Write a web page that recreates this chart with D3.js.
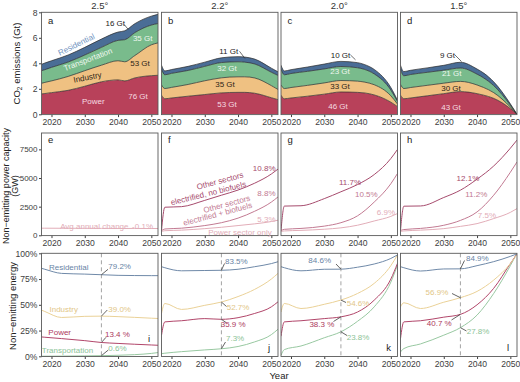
<!DOCTYPE html>
<html><head><meta charset="utf-8">
<script src="https://cdn.jsdelivr.net/npm/d3@7"></script>
<style>body{margin:0;background:#fff}svg{display:block}text{font-family:"Liberation Sans",Arial,Helvetica,sans-serif}</style>
</head><body><svg id="c" width="520" height="382"></svg>
<script>
// ---------------- DATA ----------------
const scenarios = ["2.5°", "2.2°", "2.0°", "1.5°"];
const lettersTop = ["a", "b", "c", "d"];
const lettersMid = ["e", "f", "g", "h"];
const lettersBot = ["i", "j", "k", "l"];
const xTicks = [2020, 2030, 2040, 2050];
const emTicks = [0, 2, 4, 6, 8];
const capTicks = [0, 2500, 5000, 7500];
const shareTicks = [0, 25, 50, 75, 100];
const sectors = ["Power", "Industry", "Transportation", "Residential"];

// Row 1: CO2 emissions by sector (Gt/yr)
const emYears = [2017, 2018, 2020, 2025, 2030, 2035, 2040, 2042, 2045, 2050, 2052];
const powerEm = [
  [1.6, 1.63, 1.7, 1.88, 2.2, 2.55, 2.7, 2.62, 2.85, 3.03, 3.06],
  [1.5, 1.22, 1.28, 1.42, 1.55, 1.68, 1.72, 1.72, 1.65, 1.3, 1.15],
  [1.5, 1.22, 1.28, 1.42, 1.58, 1.75, 1.72, 1.68, 1.52, 0.95, 0.6],
  [1.5, 1.22, 1.28, 1.45, 1.62, 1.78, 1.62, 1.5, 1.25, 0.45, 0]
];
const industryEm = [
  [0.83, 0.87, 0.92, 1.09, 1.22, 1.3, 1.5, 1.5, 1.75, 2.42, 2.54],
  [0.8, 0.8, 0.83, 0.92, 1.08, 1.18, 1.22, 1.22, 1.2, 0.95, 0.8],
  [0.8, 0.8, 0.82, 0.85, 0.88, 0.9, 0.88, 0.85, 0.8, 0.5, 0.2],
  [0.85, 0.8, 0.82, 0.82, 0.82, 0.8, 0.68, 0.6, 0.45, 0.12, 0]
];
const transportEm = [
  [0.99, 1.0, 1.06, 1.13, 1.23, 1.4, 1.6, 1.73, 1.8, 1.55, 1.52],
  [1.25, 1.08, 1.1, 1.1, 1.13, 1.2, 1.18, 1.15, 1.1, 1.05, 1.1],
  [1.25, 1.08, 1.1, 1.1, 1.1, 1.1, 1.05, 1.0, 0.85, 0.45, 0.2],
  [1.2, 1.0, 1.02, 1.02, 1.02, 1.05, 0.85, 0.75, 0.55, 0.15, 0]
];
const residentialEm = [
  [0.5, 0.52, 0.52, 0.55, 0.6, 0.65, 0.65, 0.7, 0.7, 0.7, 0.72],
  [0.3, 0.3, 0.3, 0.32, 0.33, 0.37, 0.4, 0.4, 0.38, 0.32, 0.28],
  [0.3, 0.3, 0.3, 0.34, 0.38, 0.4, 0.4, 0.38, 0.35, 0.2, 0.1],
  [0.3, 0.33, 0.33, 0.35, 0.38, 0.45, 0.4, 0.38, 0.3, 0.1, 0]
];
const residentialTotal = [16, 11, 10, 9];
const transportTotal = [35, 32, 23, 21];
const industryTotal = [53, 35, 33, 30];
const powerTotal = [76, 53, 46, 43];

// Row 2: non-emitting power capacity (GW)
const capYears = [2017, 2018, 2023, 2030, 2035, 2040, 2045, 2050, 2052];
const capPowerOnly = [
  [620, 620, 615, 610, 605, 600, 598, 595, 593],
  [350, 400, 450, 580, 700, 850, 1000, 1200, 1320],
  [350, 380, 430, 530, 650, 880, 1250, 1650, 1900],
  [350, 380, 450, 580, 780, 1020, 1460, 2000, 2330]
];
const capBiofuels = [
  [],
  [400, 550, 620, 850, 1100, 1500, 2100, 2900, 3350],
  [400, 520, 600, 800, 1100, 1700, 2900, 4500, 5400],
  [420, 500, 600, 875, 1300, 2040, 3500, 5500, 6400]
];
const capNoBiofuels = [
  [],
  [400, 2450, 2500, 3050, 3500, 3950, 4550, 5350, 5780],
  [400, 2550, 2580, 3200, 3800, 4430, 5300, 6700, 7500],
  [420, 2540, 2560, 3300, 3940, 4900, 6050, 7600, 8310]
];
const rateNoBiofuels = [null, 10.8, 11.7, 12.1];
const rateBiofuels = [null, 8.8, 10.5, 11.2];
const ratePowerOnly = [-0.1, 5.3, 6.9, 7.5];

// Row 3: non-emitting share of energy (%)
const shareYears = [2017, 2018, 2023, 2030, 2035, 2040, 2045, 2050, 2052];
const shareResidential = [
  [85.4, 84.5, 80.5, 79.8, 79.2, 78.6, 78.4, 78.3, 78.3],
  [87, 86, 83, 83.3, 83.5, 84.5, 87, 90, 91.8],
  [87, 86, 83, 84.5, 84.6, 86.5, 89.6, 95, 98.4],
  [87, 86, 82.8, 84.8, 84.9, 88, 91.9, 97, 99.5]
];
const shareIndustry = [
  [44.8, 43.5, 37.7, 38.8, 39.0, 38.5, 37.8, 37.0, 36.7],
  [41.6, 51.3, 45.5, 49.5, 52.7, 58, 65, 75, 80.5],
  [43, 51.3, 46.4, 50.5, 54.6, 61, 70.8, 88, 98.4],
  [48, 52, 46.4, 52.5, 56.9, 63, 74, 90, 99]
];
const sharePower = [
  [18.8, 18.5, 17.2, 15.2, 13.4, 12.5, 11.7, 11.0, 10.7],
  [20.5, 33.4, 34.5, 36.6, 35.9, 37.5, 41.6, 48, 52.9],
  [19.5, 33.4, 34.5, 36.6, 38.3, 43, 54.5, 75, 90.3],
  [17.2, 33.4, 34.5, 38, 40.7, 50, 66, 90, 99.5]
];
const shareTransport = [
  [0.1, 0.1, 0.2, 0.4, 0.6, 1.0, 1.6, 2.8, 3.6],
  [2.6, 3, 4.5, 6.2, 7.3, 9.5, 14, 21, 26.3],
  [1, 6.5, 10, 18, 23.8, 34, 48, 72, 88.6],
  [4.2, 7.5, 12, 20.5, 27.8, 40, 61, 88, 100]
];
const markYear = 2035;

// ---------------- LAYOUT / STYLE ----------------
const svg = d3.select("#c");
const colX = [41.5, 161.5, 281, 400.5];
const PW = 116.5;
const rowBox = [[12.3, 114.6], [133, 235.6], [253.3, 356.5]];
const emColors = {Power: "#b8415a", Industry: "#efc182", Transportation: "#79bb8c", Residential: "#4a6d96"};
const capColors = ["#a64b6d", "#c27a92", "#e2adb8"];
const shColors = {Residential: "#6f89a8", Industry: "#ead197", Power: "#b1466a", Transportation: "#98c8a1"};
const shText = {Residential: "#6884a5", Industry: "#e2c687", Power: "#ad3a5d", Transportation: "#8cc397"};
const tickCol = "#404040";
const borderCol = "#5a5a5a";

const xScale = i => d3.scaleLinear().domain([2017, 2052]).range([colX[i], colX[i] + PW]);
const yEm = d3.scaleLinear().domain([0, 8]).range([114.3, 12.3]);
const yCap = d3.scaleLinear().domain([0, 8930]).range([235.3, 133]);
const ySh = d3.scaleLinear().domain([0, 100]).range([356.3, 253.3]);

const defs = svg.append("defs");
function clipFor(id, i, r) {
  defs.append("clipPath").attr("id", id).append("rect")
    .attr("x", colX[i]).attr("y", rowBox[r][0]).attr("width", PW).attr("height", rowBox[r][1] - rowBox[r][0]);
  return "url(#" + id + ")";
}
function txt(g, x, y, s, o = {}) {
  const t = g.append("text").attr("x", x).attr("y", y).text(s)
    .attr("font-size", o.size || 8).attr("fill", o.fill || "#333")
    .attr("text-anchor", o.anchor || "middle");
  if (o.rot !== undefined) t.attr("transform", `rotate(${o.rot},${x},${y})`);
  return t;
}
function frame(i, r, yScale, ticks, fmt, ySize) {
  const x = xScale(i);
  const b = rowBox[r];
  const ax = svg.append("g").attr("transform", `translate(0,${b[1]})`)
    .call(d3.axisBottom(x).tickValues(xTicks).tickSize(2.5).tickPadding(1.5).tickFormat(d3.format("d")));
  ax.select(".domain").remove();
  ax.selectAll("line").attr("stroke", tickCol);
  ax.selectAll("text").attr("font-size", 8.6).attr("fill", tickCol).attr("font-family", '"Liberation Sans",Arial,sans-serif');
  if (i === 0) {
    const ay = svg.append("g").attr("transform", `translate(${colX[0]},0)`)
      .call(d3.axisLeft(yScale).tickValues(ticks).tickSize(2.5).tickPadding(1.5).tickFormat(fmt));
    ay.select(".domain").remove();
    ay.selectAll("line").attr("stroke", tickCol);
    ay.selectAll("text").attr("font-size", ySize || 8.6).attr("fill", tickCol).attr("font-family", '"Liberation Sans",Arial,sans-serif');
  }
}
function border(i, r) {
  svg.append("rect").attr("x", colX[i]).attr("y", rowBox[r][0]).attr("width", PW)
    .attr("height", rowBox[r][1] - rowBox[r][0]).attr("fill", "none").attr("stroke", borderCol).attr("stroke-width", 0.9);
}

// ---------------- ROW 1 ----------------
const emLabelPos = [
  [[115.3, 26], [142.7, 41], [140, 66], [138, 98.7]],
  [[228.7, 53.7], [227, 71.4], [225, 87.4], [227, 106.7]],
  [[340.5, 57.5], [340, 73.5], [340, 88.9], [338, 108.7]],
  [[447.5, 57.5], [451.7, 75.7], [451, 90.7], [451, 109.7]]
];
const emLeaders = [[124, 24.3, 128.3, 29.5], [239.5, 51.3, 245, 58.5], [350.5, 55, 355.5, 59.8], [455, 55, 461.5, 61.5]];
const emLabelFill = ["#222", "#eef7ef", "#2d2416", "#f6dbe1"];

for (let i = 0; i < 4; i++) {
  const x = xScale(i);
  const rows = emYears.map((yr, k) => ({year: yr, Power: powerEm[i][k], Industry: industryEm[i][k],
    Transportation: transportEm[i][k], Residential: residentialEm[i][k]}));
  const series = d3.stack().keys(sectors)(rows);
  const g = svg.append("g").attr("clip-path", clipFor("c1" + i, i, 0));
  const area = d3.area().x(d => x(d.data.year)).y0(d => yEm(d[0])).y1(d => yEm(d[1])).curve(d3.curveMonotoneX);
  const line = d3.line().x(d => x(d.data.year)).y(d => yEm(d[1])).curve(d3.curveMonotoneX);
  g.selectAll("path.a").data(series).join("path").attr("d", area).attr("fill", s => emColors[s.key]);
  g.selectAll("path.l").data(series).join("path").attr("d", line).attr("fill", "none").attr("stroke", "#2a2a2a").attr("stroke-width", 0.7);
  frame(i, 0, yEm, emTicks, d3.format("d"));
  border(i, 0);
  txt(svg, colX[i] + PW / 2, 9.3, scenarios[i], {size: 9.5, fill: "#333"});
  txt(svg, colX[i] + 6.5, rowBox[0][0] + 11.3, lettersTop[i], {size: 9.5, fill: "#222", anchor: "start"});
  const totals = [residentialTotal[i], transportTotal[i], industryTotal[i], powerTotal[i]];
  totals.forEach((v, k) => txt(svg, emLabelPos[i][k][0], emLabelPos[i][k][1], v + " Gt", {size: 8, fill: emLabelFill[k]}));
  const L = emLeaders[i];
  svg.append("line").attr("x1", L[0]).attr("y1", L[1]).attr("x2", L[2]).attr("y2", L[3]).attr("stroke", "#333").attr("stroke-width", 0.7);
}
// sector names in panel a
txt(svg, 77.5, 47, "Residential", {size: 8, fill: "#7193c0", rot: -26});
txt(svg, 89, 62, "Transportation", {size: 8, fill: "#eef7ef", rot: -21});
txt(svg, 88, 80, "Industry", {size: 8, fill: "#2d2416", rot: -11});
txt(svg, 93.3, 104, "Power", {size: 8, fill: "#f6dbe1"});

// ---------------- ROW 2 ----------------
const capLabelPos = [
  [null, null, [153, 229]],
  [[275.5, 171], [275.5, 196.2], [275.5, 222.2]],
  [[361, 184.5], [377.7, 197.2], [395, 214.5]],
  [[479.3, 180.5], [487.3, 197.2], [496, 218]]
];
for (let i = 0; i < 4; i++) {
  const x = xScale(i);
  const g = svg.append("g").attr("clip-path", clipFor("c2" + i, i, 1));
  const line = d3.line().x((d, k) => x(capYears[k])).y(d => yCap(d)).curve(d3.curveMonotoneX);
  const sets = [capNoBiofuels[i], capBiofuels[i], capPowerOnly[i]];
  sets.forEach((s, k) => {
    if (s.length) g.append("path").attr("d", line(s)).attr("fill", "none").attr("stroke", capColors[k]).attr("stroke-width", 1);
  });
  frame(i, 1, yCap, capTicks, d3.format("d"), 8);
  border(i, 1);
  txt(svg, colX[i] + 6.5, rowBox[1][0] + 10.3, lettersMid[i], {size: 9.5, fill: "#222", anchor: "start"});
  const rates = [rateNoBiofuels[i], rateBiofuels[i], ratePowerOnly[i]];
  rates.forEach((r, k) => {
    if (r === null) return;
    const p = capLabelPos[i][k];
    txt(svg, p[0], p[1], r.toFixed(1) + "%", {size: 8, fill: capColors[k], anchor: "end"});
  });
}
txt(svg, 128.5, 229, "Avg annual change", {size: 8, fill: capColors[2], anchor: "end"});
txt(svg, 220.7, 183.5, "Other sectors", {size: 8, fill: capColors[0], rot: -15});
txt(svg, 209, 196, "electrified, no biofuels", {size: 8, fill: capColors[0], rot: -14});
txt(svg, 227.5, 206.7, "Other sectors", {size: 8, fill: capColors[1], rot: -15});
txt(svg, 218.3, 216.7, "electrified + biofuels", {size: 8, fill: capColors[1], rot: -15});
txt(svg, 240, 234.5, "Power sector only", {size: 8, fill: capColors[2]});

// ---------------- ROW 3 ----------------
const shOrder = ["Residential", "Industry", "Power", "Transportation"];
const shLabelPos = [
  [["start", 108.3, 268.7], ["start", 108.3, 312], ["start", 105, 337], ["start", 108.3, 350.7]],
  [["start", 225, 263.7], ["start", 226.7, 310.3], ["start", 220.7, 327], ["start", 226, 341.3]],
  [["end", 331, 263], ["start", 346.7, 305.7], ["end", 334.3, 327.3], ["start", 346.7, 340.3]],
  [["start", 466, 261.3], ["end", 448.3, 295.3], ["end", 451.7, 325.7], ["start", 466.7, 334]]
];
const shLeaderEnd = [
  [[108, 269.3], [107.3, 310], [106, 337.3], [108.3, 350]],
  [[224.5, 263.5], [226.5, 306.5], [226, 322.5], [225.5, 342]],
  [[336, 264], [346, 302.5], [333.5, 321.5], [347, 335.5]],
  [[464.5, 260.5], [452, 293.5], [451.5, 320], [466.5, 331]]
];
const shNamePos = [[68.7, 269.7], [63.7, 312], [59.7, 335.3], [67.5, 353]];
for (let i = 0; i < 4; i++) {
  const x = xScale(i);
  const g = svg.append("g").attr("clip-path", clipFor("c3" + i, i, 2));
  const data = {Residential: shareResidential[i], Industry: shareIndustry[i], Power: sharePower[i], Transportation: shareTransport[i]};
  const line = d3.line().x((d, k) => x(shareYears[k])).y(d => ySh(d)).curve(d3.curveMonotoneX);
  ["Transportation", "Power", "Industry", "Residential"].forEach(s =>
    g.append("path").attr("d", line(data[s])).attr("fill", "none").attr("stroke", shColors[s]).attr("stroke-width", 1));
  const mx = x(markYear);
  svg.append("line").attr("x1", mx).attr("x2", mx).attr("y1", rowBox[2][0]).attr("y2", rowBox[2][1])
    .attr("stroke", "#9a9a9a").attr("stroke-width", 0.9).attr("stroke-dasharray", "4,3");
  frame(i, 2, ySh, shareTicks, d => d + "%");
  border(i, 2);
  const ki = shareYears.indexOf(markYear);
  shOrder.forEach((s, k) => {
    const v = data[s][ki];
    const e = shLeaderEnd[i][k];
    svg.append("line").attr("x1", mx).attr("y1", ySh(v)).attr("x2", e[0]).attr("y2", e[1]).attr("stroke", "#222").attr("stroke-width", 0.7);
    const p = shLabelPos[i][k];
    const label = s === "Power" ? v.toFixed(1) + " %" : v.toFixed(1) + "%";
    txt(svg, p[1], p[2], label, {size: 8, fill: shText[s], anchor: p[0]});
  });
  const lx = colX[i] + PW - 9;
  const ly = i === 0 ? rowBox[2][1] - 14.5 : rowBox[2][1] - 6;
  txt(svg, lx, ly, lettersBot[i], {size: 9.5, fill: "#222"});
}
shOrder.forEach((s, k) => txt(svg, shNamePos[k][0], shNamePos[k][1], s, {size: 8, fill: shText[s]}));

// ---------------- AXIS TITLES ----------------
const t1 = svg.append("text").attr("transform", "translate(19.5,63.5) rotate(-90)").attr("text-anchor", "middle")
  .attr("font-size", 9.5).attr("fill", "#222");
t1.append("tspan").text("CO");
t1.append("tspan").text("2").attr("font-size", 6.5).attr("dy", 2.5);
t1.append("tspan").text(" emissions (Gt)").attr("dy", -2.5);
svg.append("text").attr("transform", "translate(8.7,186) rotate(-90)").attr("text-anchor", "middle")
  .attr("font-size", 9).attr("fill", "#222").text("Non\u2212emitting power capacity");
svg.append("text").attr("transform", "translate(18,186) rotate(-90)").attr("text-anchor", "middle")
  .attr("font-size", 9).attr("fill", "#222").text("(GW)");
svg.append("text").attr("transform", "translate(15.5,306) rotate(-90)").attr("text-anchor", "middle")
  .attr("font-size", 9.5).attr("fill", "#222").text("Non\u2212emitting energy");
txt(svg, 279, 379, "Year", {size: 9.5, fill: "#222"});
</script></body></html>
